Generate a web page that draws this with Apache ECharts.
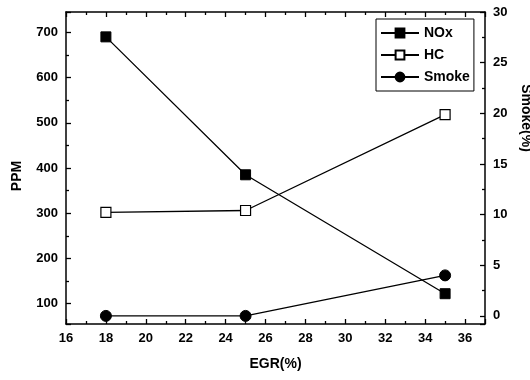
<!DOCTYPE html>
<html>
<head>
<meta charset="utf-8">
<script src="https://cdn.jsdelivr.net/npm/echarts@6/dist/echarts.min.js"></script>
<style>
html,body{margin:0;padding:0;background:#fff;}
#main{width:530px;height:380px;}
</style>
</head>
<body>
<div id="main"></div>
<script>
// EGR (%) on x
var egr = [18, 25, 35];
// left axis, PPM
var nox = [690, 385, 122];
var hc = [302, 306, 518];
// right axis, Smoke (%)
var smoke = [0, 0, 4];

function pairs(xs, ys) {
	var out = [];
	for (var i = 0; i < xs.length; i++) {
		out.push([xs[i], ys[i]]);
	}
	return out;
}

var fontBase = 'Liberation Sans, Arial, sans-serif';
var lbl = {color: '#000', fontWeight: 'bold', fontSize: 13, fontFamily: fontBase};
var lineSty = {color: '#000', width: 1.3};
var tick = {show: true, inside: true, length: 5, lineStyle: {color: '#000', width: 1.3}};
var minor = {show: true, splitNumber: 2, length: 3, lineStyle: {color: '#000', width: 1.3}};
var axLine = {show: true, onZero: false, lineStyle: {color: '#000', width: 1.5}};

var myChart = echarts.init(document.getElementById('main'));
var option = {
	animation: false,
	backgroundColor: '#fff',
	grid: {left: 66, right: 45, top: 12, bottom: 56, outerBoundsMode: 'none', containLabel: false},
	legend: {
		left: 376,
		top: 19,
		orient: 'vertical',
		padding: [7, 4, 7, 4],
		itemWidth: 38,
		itemHeight: 11,
		itemGap: 8,
		borderColor: '#000',
		borderWidth: 1,
		textStyle: {color: '#000', fontWeight: 'bold', fontSize: 14, fontFamily: fontBase},
		data: ['NOx', 'HC', 'Smoke']
	},
	xAxis: [{
		type: 'value',
		min: 16,
		max: 37,
		interval: 2,
		name: 'EGR(%)',
		nameLocation: 'middle',
		nameGap: 33,
		nameTextStyle: {color: '#000', fontWeight: 'bold', fontSize: 14, fontFamily: fontBase},
		axisLine: axLine,
		axisTick: tick,
		minorTick: minor,
		axisLabel: Object.assign({margin: 8, showMaxLabel: false}, lbl),
		splitLine: {show: false}
	}, {
		// mirrored top axis, ticks only
		type: 'value',
		position: 'top',
		min: 16,
		max: 37,
		interval: 2,
		axisLine: axLine,
		axisTick: tick,
		minorTick: minor,
		axisLabel: {show: false},
		splitLine: {show: false}
	}],
	yAxis: [{
		type: 'value',
		min: 55,
		max: 745,
		splitNumber: 7,
		name: 'PPM',
		nameLocation: 'middle',
		nameGap: 42,
		nameTextStyle: {color: '#000', fontWeight: 'bold', fontSize: 14, fontFamily: fontBase, padding: [0, 16, 0, 0]},
		axisLine: axLine,
		axisTick: tick,
		minorTick: minor,
		axisLabel: Object.assign({margin: 8, showMinLabel: false, showMaxLabel: false}, lbl),
		splitLine: {show: false}
	}, {
		type: 'value',
		position: 'right',
		min: -0.8,
		max: 30,
		splitNumber: 6,
		name: 'Smoke(%)',
		nameLocation: 'middle',
		nameRotate: -90,
		nameGap: 33,
		nameTextStyle: {color: '#000', fontWeight: 'bold', fontSize: 14, fontFamily: fontBase, padding: [0, 100, 0, 0]},
		axisLine: axLine,
		axisTick: tick,
		minorTick: minor,
		axisLabel: Object.assign({margin: 8, showMinLabel: false}, lbl),
		splitLine: {show: false}
	}],
	series: [{
		name: 'NOx',
		type: 'line',
		xAxisIndex: 0,
		yAxisIndex: 0,
		data: pairs(egr, nox),
		symbol: 'rect',
		symbolSize: 10,
		lineStyle: lineSty,
		itemStyle: {color: '#000', borderColor: '#000', borderWidth: 1}
	}, {
		name: 'HC',
		type: 'line',
		xAxisIndex: 0,
		yAxisIndex: 0,
		data: pairs(egr, hc),
		symbol: 'rect',
		symbolSize: 10,
		lineStyle: lineSty,
		itemStyle: {color: '#fff', borderColor: '#000', borderWidth: 1.2}
	}, {
		name: 'Smoke',
		type: 'line',
		xAxisIndex: 0,
		yAxisIndex: 1,
		data: pairs(egr, smoke),
		symbol: 'circle',
		symbolSize: 11,
		lineStyle: lineSty,
		itemStyle: {color: '#000', borderColor: '#000', borderWidth: 1}
	}]
};
myChart.setOption(option);
</script>
</body>
</html>
